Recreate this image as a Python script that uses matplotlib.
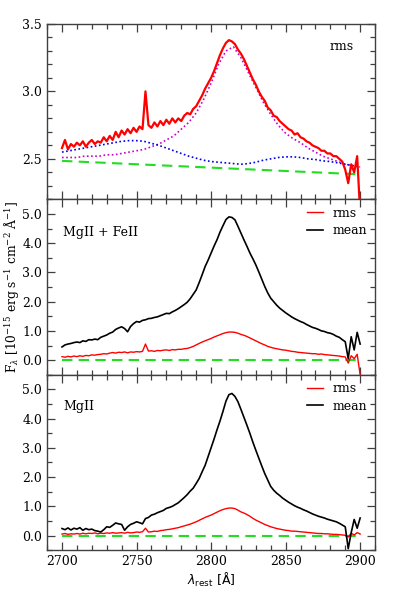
import numpy as np
import matplotlib
matplotlib.use("Agg")
import matplotlib.pyplot as plt
from matplotlib.ticker import MultipleLocator, FormatStrFormatter

# ---------------- data ----------------
wl = np.arange(2700, 2901, 2)          # spectra sampled every 2 A
wl_model = np.arange(2700, 2901, 5)    # model components every 5 A

top_rms = [2.58, 2.64, 2.57, 2.61, 2.59,
           2.62, 2.60, 2.63, 2.59, 2.62,
           2.64, 2.61, 2.63, 2.62, 2.66,
           2.63, 2.67, 2.64, 2.70, 2.66,
           2.71, 2.68, 2.72, 2.69, 2.73,
           2.70, 2.74, 2.72, 3.00, 2.75,
           2.73, 2.77, 2.74, 2.78, 2.75,
           2.79, 2.76, 2.80, 2.77, 2.80,
           2.78, 2.82, 2.84, 2.83, 2.87,
           2.89, 2.93, 2.97, 3.02, 3.06,
           3.10, 3.15, 3.21, 3.27, 3.32,
           3.36, 3.38, 3.37, 3.35, 3.31,
           3.28, 3.24, 3.19, 3.14, 3.09,
           3.05, 3.00, 2.96, 2.93, 2.88,
           2.86, 2.82, 2.81, 2.78, 2.76,
           2.74, 2.72, 2.71, 2.68, 2.69,
           2.66, 2.65, 2.63, 2.62, 2.60,
           2.59, 2.58, 2.56, 2.56, 2.54,
           2.54, 2.52, 2.52, 2.50, 2.48,
           2.42, 2.32, 2.46, 2.40, 2.52,
           2.10]

top_mgii_model = [2.51, 2.51, 2.51, 2.52, 2.52, 2.52, 2.53, 2.53, 2.54, 2.55,
                  2.56, 2.57, 2.59, 2.61, 2.64, 2.67, 2.72, 2.77, 2.84, 2.94,
                  3.06, 3.20, 3.30, 3.33, 3.25, 3.14, 3.03, 2.92, 2.83, 2.75,
                  2.69, 2.65, 2.62, 2.58, 2.55, 2.52, 2.50, 2.48, 2.46, 2.45,
                  2.44]

top_feii_model = [2.55, 2.56, 2.57, 2.58, 2.59, 2.60, 2.61, 2.62, 2.63, 2.635,
                  2.635, 2.63, 2.615, 2.60, 2.58, 2.56, 2.54, 2.52, 2.505, 2.49,
                  2.48, 2.475, 2.47, 2.465, 2.46, 2.465, 2.475, 2.49, 2.50, 2.51,
                  2.515, 2.515, 2.51, 2.50, 2.495, 2.485, 2.48, 2.47, 2.46, 2.45,
                  2.44]

cont_wl = [2700, 2900]
top_cont = [2.485, 2.385]
zero_cont = [0.0, 0.0]

mid_mean = [0.45, 0.52, 0.55, 0.57, 0.60,
            0.62, 0.60, 0.66, 0.64, 0.70,
            0.69, 0.72, 0.70, 0.78, 0.82,
            0.86, 0.92, 0.96, 1.05, 1.10,
            1.14, 1.08, 0.97, 1.15, 1.25,
            1.32, 1.30, 1.36, 1.38, 1.42,
            1.43, 1.46, 1.48, 1.52, 1.56,
            1.60, 1.59, 1.65, 1.70, 1.76,
            1.83, 1.90, 1.98, 2.10, 2.25,
            2.40, 2.65, 2.92, 3.20, 3.42,
            3.66, 3.90, 4.12, 4.38, 4.60,
            4.81, 4.90, 4.88, 4.80, 4.58,
            4.35, 4.12, 3.90, 3.67, 3.47,
            3.26, 3.02, 2.77, 2.52, 2.30,
            2.12, 2.00, 1.88, 1.78, 1.70,
            1.62, 1.55, 1.48, 1.42, 1.37,
            1.32, 1.28, 1.22, 1.17, 1.12,
            1.09, 1.05, 1.00, 0.98, 0.94,
            0.92, 0.88, 0.82, 0.78, 0.70,
            0.63, 0.05, 0.80, 0.35, 0.95,
            0.55]

mid_rms = [0.12, 0.10, 0.13, 0.11, 0.14,
           0.12, 0.15, 0.13, 0.16, 0.15,
           0.18, 0.17, 0.19, 0.20, 0.22,
           0.21, 0.24, 0.26, 0.24, 0.27,
           0.26, 0.28, 0.25, 0.28, 0.27,
           0.29, 0.28, 0.30, 0.55, 0.31,
           0.32, 0.30, 0.33, 0.32, 0.34,
           0.35, 0.33, 0.36, 0.35, 0.37,
           0.37, 0.39, 0.40, 0.43, 0.47,
           0.52, 0.57, 0.62, 0.66, 0.70,
           0.74, 0.79, 0.83, 0.87, 0.91,
           0.94, 0.96, 0.96, 0.95, 0.92,
           0.88, 0.85, 0.81, 0.76, 0.71,
           0.66, 0.61, 0.56, 0.52, 0.47,
           0.44, 0.41, 0.39, 0.37, 0.35,
           0.34, 0.32, 0.30, 0.29, 0.27,
           0.26, 0.25, 0.24, 0.23, 0.22,
           0.22, 0.20, 0.21, 0.19, 0.18,
           0.17, 0.16, 0.15, 0.14, 0.12,
           0.11, -0.10, 0.15, 0.05, 0.20,
           -0.50]

bot_mean = [0.24, 0.20, 0.26, 0.19, 0.25,
            0.22, 0.27, 0.18, 0.24, 0.20,
            0.22, 0.17, 0.15, 0.12, 0.20,
            0.30, 0.28, 0.35, 0.43, 0.40,
            0.38, 0.18, 0.30, 0.38, 0.42,
            0.47, 0.44, 0.40, 0.58, 0.62,
            0.70, 0.73, 0.78, 0.82, 0.86,
            0.93, 0.96, 1.00, 1.06, 1.12,
            1.21, 1.30, 1.40, 1.52, 1.62,
            1.78, 1.95, 2.18, 2.40, 2.70,
            3.00, 3.30, 3.62, 3.92, 4.25,
            4.60, 4.82, 4.86, 4.76, 4.58,
            4.32, 4.05, 3.78, 3.50, 3.20,
            2.92, 2.65, 2.38, 2.12, 1.90,
            1.68, 1.55, 1.45, 1.37, 1.28,
            1.21, 1.14, 1.08, 1.02, 0.97,
            0.93, 0.88, 0.84, 0.79, 0.74,
            0.70, 0.66, 0.63, 0.60, 0.56,
            0.53, 0.50, 0.47, 0.42, 0.36,
            0.30, -0.45, 0.10, 0.55, 0.25,
            0.60]

bot_rms = [0.05, 0.07, 0.04, 0.06, 0.05,
           0.07, 0.05, 0.08, 0.06, 0.08,
           0.07, 0.09, 0.06, 0.08, 0.07,
           0.09, 0.08, 0.10, 0.08, 0.09,
           0.10, 0.08, 0.11, 0.09, 0.10,
           0.12, 0.11, 0.13, 0.25, 0.12,
           0.13, 0.15, 0.14, 0.17, 0.18,
           0.20, 0.21, 0.23, 0.25, 0.27,
           0.30, 0.33, 0.36, 0.39, 0.43,
           0.47, 0.52, 0.57, 0.62, 0.66,
           0.70, 0.75, 0.80, 0.85, 0.89,
           0.92, 0.94, 0.94, 0.92, 0.87,
           0.81, 0.77, 0.72, 0.66, 0.59,
           0.53, 0.48, 0.43, 0.38, 0.34,
           0.30, 0.27, 0.24, 0.22, 0.20,
           0.18, 0.17, 0.15, 0.15, 0.14,
           0.13, 0.12, 0.11, 0.10, 0.09,
           0.08, 0.07, 0.07, 0.06, 0.06,
           0.05, 0.04, 0.04, 0.03, 0.02,
           0.01, -0.05, 0.08, 0.02, 0.10,
           0.05]

top_label = "rms"
mid_label = "MgII + FeII"
bot_label = "MgII"

# ---------------- style ----------------
plt.rcParams['font.family'] = ['DejaVu Serif']
plt.rcParams['mathtext.fontset'] = 'dejavuserif'
plt.rcParams['font.size'] = 9

RED = '#ff0000'
GREEN = '#22dd22'
MAGENTA = '#cc00cc'
BLUE = '#0000ee'
FRAME = '0.25'

fig, axes = plt.subplots(3, 1, figsize=(3.99, 5.98), dpi=100, sharex=True)
fig.subplots_adjust(left=0.118, right=0.94, top=0.96, bottom=0.08, hspace=0)
ax1, ax2, ax3 = axes

# top panel
ax1.plot(wl, top_rms, color=RED, lw=1.6, zorder=3)
ax1.plot(wl_model, top_mgii_model, color=MAGENTA, lw=1.2, ls=(0, (1, 1.5)), zorder=2)
ax1.plot(wl_model, top_feii_model, color=BLUE, lw=1.2, ls=(0, (1, 1.5)), zorder=2)
ax1.plot(cont_wl, top_cont, color=GREEN, lw=1.5, ls=(0, (5, 3)), zorder=2)
ax1.set_ylim(2.2, 3.5)
ax1.yaxis.set_major_locator(MultipleLocator(0.5))
ax1.yaxis.set_minor_locator(MultipleLocator(0.1))
ax1.text(0.86, 0.87, top_label, transform=ax1.transAxes, ha='left', va='center', fontsize=9)

# middle panel
ax2.plot(wl, mid_rms, color=RED, lw=1.0, label='rms', zorder=3)
ax2.plot(wl, mid_mean, color='black', lw=1.2, label='mean', zorder=3)
ax2.plot(cont_wl, zero_cont, color=GREEN, lw=1.5, ls=(0, (5, 3)), zorder=2)
ax2.text(0.05, 0.81, mid_label, transform=ax2.transAxes, ha='left', va='center', fontsize=9)

# bottom panel
ax3.plot(wl, bot_rms, color=RED, lw=1.0, label='rms', zorder=3)
ax3.plot(wl, bot_mean, color='black', lw=1.2, label='mean', zorder=3)
ax3.plot(cont_wl, zero_cont, color=GREEN, lw=1.5, ls=(0, (5, 3)), zorder=2)
ax3.text(0.05, 0.82, bot_label, transform=ax3.transAxes, ha='left', va='center', fontsize=9)

for ax in (ax2, ax3):
    ax.set_ylim(-0.5, 5.5)
    ax.yaxis.set_major_locator(MultipleLocator(1.0))
    ax.yaxis.set_minor_locator(MultipleLocator(0.5))
    ax.legend(loc='upper right', frameon=False, handlelength=1.3, handletextpad=0.8,
              labelspacing=0.35, borderaxespad=0.2, fontsize=9)

for ax in axes:
    ax.set_xlim(2690, 2910)
    ax.xaxis.set_major_locator(MultipleLocator(50))
    ax.xaxis.set_minor_locator(MultipleLocator(10))
    ax.yaxis.set_major_formatter(FormatStrFormatter('%.1f'))
    ax.tick_params(which='both', direction='in', top=True, right=True, color=FRAME)
    ax.tick_params(which='major', length=6, width=0.9)
    ax.tick_params(which='minor', length=3.5, width=0.9)
    for s in ax.spines.values():
        s.set_color(FRAME)
        s.set_linewidth(1.0)

ax2.set_ylabel(r'F$_\lambda$ [10$^{-15}$ erg s$^{-1}$ cm$^{-2}$ Å$^{-1}$]', fontsize=8.8, labelpad=1)
ax3.set_xlabel(r'$\lambda_{\rm rest}$ [Å]', fontsize=9, family='DejaVu Sans',
               math_fontfamily='dejavusans', labelpad=2)

fig.savefig('out.png', dpi=100)
